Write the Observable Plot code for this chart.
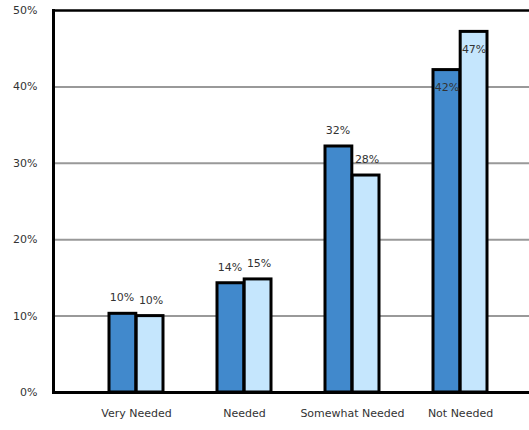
<!DOCTYPE html>
<html><head><meta charset="utf-8">
<script src="https://cdn.jsdelivr.net/npm/d3@7"></script>
<script src="https://cdn.jsdelivr.net/npm/@observablehq/plot@0.6"></script>
<style>html,body{margin:0;padding:0;background:#fff} svg{display:block}</style>
</head><body><div id="chart"></div>
<script>
const categories = ["Very Needed", "Needed", "Somewhat Needed", "Not Needed"];
const seriesA = [10.3, 14.3, 32.2, 42.2];
const seriesB = [10.0, 14.8, 28.4, 47.2];
const yTicks = [0, 10, 20, 30, 40, 50];
const gridTicks = [10, 20, 30, 40];
const colorA = "#4189cc";
const colorB = "#c5e6fd";

const rowsA = categories.map((c, i) => ({cat: c, v: seriesA[i]}));
const rowsB = categories.map((c, i) => ({cat: c, v: seriesB[i]}));
const inside = d => d.v > 40;

const W = 529, H = 430;
const xRange = [80, 515];
const step = (xRange[1] - xRange[0]) / (categories.length);
const half = step * 0.5 / 2;

const chart = Plot.plot({
  width: W, height: H,
  marginLeft: 53, marginRight: 0, marginTop: 10, marginBottom: 38,
  style: {fontFamily: "DejaVu Sans", fontSize: "11px", color: "#333", background: "#fff"},
  x: {domain: categories, range: xRange, paddingInner: 0.5, paddingOuter: 0.25, label: null},
  y: {domain: [0, 50], label: null},
  marks: [
    Plot.ruleY(gridTicks, {stroke: "#999", strokeWidth: 2}),
    Plot.barY(rowsA, {x: "cat", y: "v", fill: colorA, stroke: "#000", strokeWidth: 3, insetRight: half}),
    Plot.barY(rowsB, {x: "cat", y: "v", fill: colorB, stroke: "#000", strokeWidth: 3, insetLeft: half}),
    Plot.text(rowsA.filter(d => !inside(d)), {x: "cat", y: "v", text: d => Math.round(d.v) + "%", dx: -half / 2 - 1, dy: -16, fill: "#333", fontSize: 11}),
    Plot.text(rowsB.filter(d => !inside(d)), {x: "cat", y: "v", text: d => Math.round(d.v) + "%", dx: half / 2 + 1, dy: -16, fill: "#333", fontSize: 11}),
    Plot.text(rowsA.filter(inside), {x: "cat", y: "v", text: d => Math.round(d.v) + "%", dx: -half / 2, dy: 17, fill: "#333", fontSize: 11}),
    Plot.text(rowsB.filter(inside), {x: "cat", y: "v", text: d => Math.round(d.v) + "%", dx: half / 2, dy: 18, fill: "#333", fontSize: 11}),
    Plot.ruleY([50], {stroke: "#000", strokeWidth: 2.5}),
    Plot.ruleY([0], {stroke: "#000", strokeWidth: 3}),
    Plot.frame({anchor: "left", stroke: "#000", strokeWidth: 3}),
    Plot.axisY({ticks: yTicks, tickSize: 0, tickPadding: 16, tickFormat: d => d + "%", label: null}),
    Plot.axisX({tickSize: 0, tickPadding: 17, label: null})
  ]
});
document.getElementById("chart").appendChild(chart);
</script>
</body></html>
